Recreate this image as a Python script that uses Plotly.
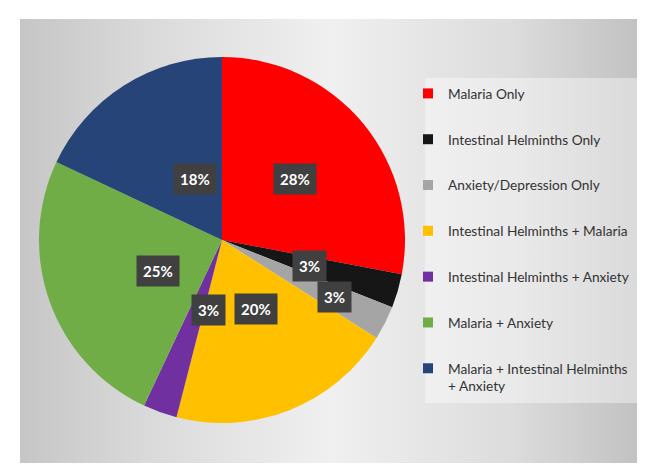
import math
import plotly.graph_objects as go

# slice data, clockwise from 12 o'clock
labels = ['Malaria Only', 'Intestinal Helminths Only', 'Anxiety/Depression Only',
          'Intestinal Helminths + Malaria', 'Intestinal Helminths + Anxiety',
          'Malaria + Anxiety', 'Malaria + Intestinal Helminths<br>+ Anxiety']
percents = [28, 3, 3, 20, 3, 25, 18]
colors = ['#FF0000', '#161616', '#A5A5A5', '#FFC000', '#7030A0', '#70AD47', '#264478']

W, H = 665, 472
OFF = 8  # page body margin, the figure is drawn 8px in from the window edge


def px_x(x):
    return (x - OFF) / W


def px_y(y):
    return 1 - (y - OFF) / H


# pie centre and radius in screen pixels
cx, cy, R = 222, 240, 183
# how far out each percent label sits (fraction of radius)
label_r = [0.52, 0.5, 0.69, 0.5, 0.5, 0.5, 0.5]

fig = go.Figure()

# grey gradient panel behind everything, light in the middle, darker at the sides
x0, x1 = px_x(20), px_x(637)
y0, y1 = px_y(463), px_y(19)
fig.add_trace(go.Scatter(
    x=[x0, x1, x1, x0, x0], y=[y0, y0, y1, y1, y0],
    mode='lines', line=dict(width=0), fill='toself',
    fillgradient=dict(type='horizontal',
                      colorscale=[[0, '#c6c6c6'], [0.2, '#d9d9d9'], [0.5, '#f0f0f0'],
                                  [0.8, '#dcdcdc'], [1, '#c2c2c2']]),
    hoverinfo='skip', showlegend=False))

fig.add_trace(go.Pie(
    labels=labels, values=percents, sort=False, direction='clockwise', rotation=0,
    marker=dict(colors=colors, line=dict(width=0)),
    textinfo='none', showlegend=False,
    domain=dict(x=[px_x(cx - R), px_x(cx + R)], y=[px_y(cy + R), px_y(cy - R)])))

# legend entries
for i, lab in enumerate(labels):
    fig.add_trace(go.Scatter(
        x=[None], y=[None], mode='markers', name=lab, legendgroup=str(i),
        marker=dict(symbol='square', size=10, color=colors[i])))

# percent labels in dark boxes
total = sum(percents)
cum = 0
for i, p in enumerate(percents):
    mid = (cum + p / 2) / total * 2 * math.pi
    cum += p
    lx = cx + label_r[i] * R * math.sin(mid)
    ly = cy - label_r[i] * R * math.cos(mid)
    fig.add_annotation(
        x=px_x(lx), y=px_y(ly), xref='paper', yref='paper',
        text='<b>%d%%</b>' % round(p / total * 100), showarrow=False,
        font=dict(family='Lato', size=15, color='white'),
        bgcolor='#404040', borderpad=6)

fig.add_shape(type='rect', xref='paper', yref='paper',
              x0=px_x(425), x1=px_x(637), y0=px_y(403), y1=px_y(78),
              fillcolor='rgba(255,255,255,0.4)', line=dict(width=0), layer='above')

fig.update_layout(
    width=W, height=H,
    margin=dict(l=0, r=0, t=0, b=0),
    paper_bgcolor='white', plot_bgcolor='rgba(0,0,0,0)',
    xaxis=dict(range=[0, 1], visible=False, fixedrange=True),
    yaxis=dict(range=[0, 1], visible=False, fixedrange=True),
    font=dict(family='Lato', color='#3a3a3a'),
    legend=dict(x=px_x(408), y=px_y(78), xanchor='left', yanchor='top',
                bgcolor='rgba(0,0,0,0)', font=dict(size=13.7, color='#333333'),
                tracegroupgap=25, valign='top', itemwidth=30),
)

fig.write_html("out.html")
